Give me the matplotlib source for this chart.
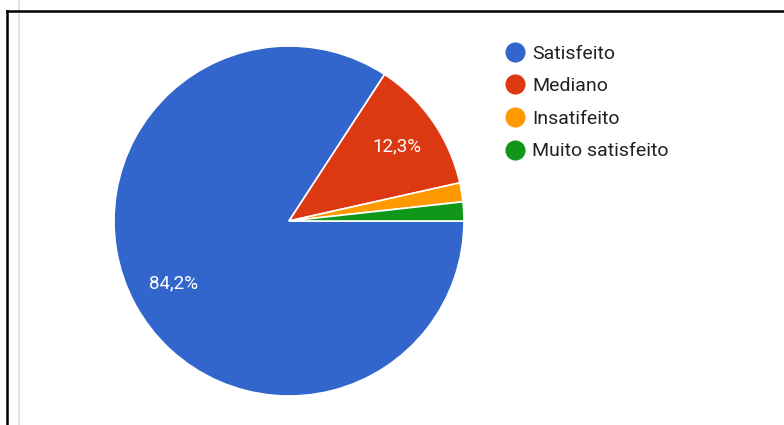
import matplotlib.pyplot as plt
from matplotlib.lines import Line2D

plt.rcParams['font.family'] = ['Roboto', 'DejaVu Sans']

categories = ['Satisfeito', 'Mediano', 'Insatifeito', 'Muito satisfeito']
percents = [84.2, 12.3, 1.75, 1.75]
colors = ['#3366cc', '#dc3912', '#ff9900', '#109618']

W, H = 784, 425
fig = plt.figure(figsize=(W / 100, H / 100), dpi=100)

# pie axes: center (289, 221), radius 175 px
cx, cy, r = 289, 221, 175
ax = fig.add_axes([(cx - r) / W, (H - cy - r) / H, 2 * r / W, 2 * r / H])


def fmt(p):
    # only the big slices get a label
    return f'{p:.1f}%'.replace('.', ',') if p > 5 else ''


wedges, texts, autotexts = ax.pie(
    percents, colors=colors, startangle=0, counterclock=False,
    autopct=fmt, pctdistance=0.75,
    wedgeprops=dict(edgecolor='white', linewidth=1.2),
    textprops=dict(color='white', fontsize=13.5))
ax.set_xlim(-1, 1)
ax.set_ylim(-1, 1)
ax.set_aspect('equal')

# legend with round markers
handles = [Line2D([], [], marker='o', linestyle='', markersize=13.5,
                  markerfacecolor=c, markeredgecolor=c) for c in colors]
fig.legend(handles, categories, loc='upper left',
           bbox_to_anchor=(495 / W, 1 - 35 / H), frameon=False,
           fontsize=14, labelcolor='#222222', handletextpad=0.3,
           labelspacing=0.75, handlelength=1.1, borderpad=0)

# frame lines from the screenshot
fig.add_artist(Line2D([19 / W, 19 / W], [0, 1], color='#e3e3e3', lw=1.5))
fig.add_artist(Line2D([7 / W, 1], [1 - 10.5 / H, 1 - 10.5 / H], color='black', lw=1.8))
fig.add_artist(Line2D([7 / W, 7 / W], [0, 1 - 10.5 / H], color='black', lw=1.8))

fig.savefig('out.png', dpi=100)
